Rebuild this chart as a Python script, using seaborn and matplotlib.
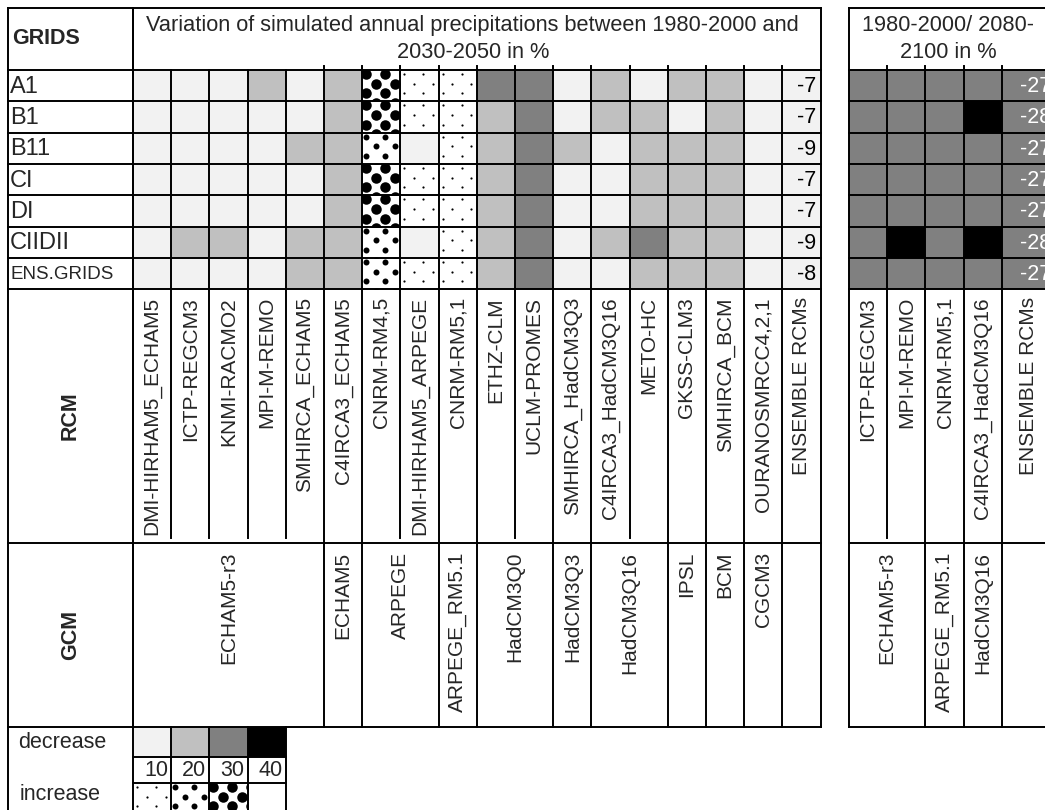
import numpy as np
import pandas as pd
import matplotlib
matplotlib.use('Agg')
import matplotlib.pyplot as plt
import seaborn as sns
from matplotlib.colors import ListedColormap, BoundaryNorm
from matplotlib.patches import Rectangle

sns.set_style('white')
plt.rcParams['font.family'] = ['Liberation Sans', 'DejaVu Sans']

# ---- data -------------------------------------------------------------
grids = ['A1', 'B1', 'B11', 'CI', 'DI', 'CIIDII', 'ENS.GRIDS']

rcm_left = ['DMI-HIRHAM5_ECHAM5', 'ICTP-REGCM3', 'KNMI-RACMO2', 'MPI-M-REMO',
            'SMHIRCA_ECHAM5', 'C4IRCA3_ECHAM5', 'CNRM-RM4,5', 'DMI-HIRHAM5_ARPEGE',
            'CNRM-RM5,1', 'ETHZ-CLM', 'UCLM-PROMES', 'SMHIRCA_HadCM3Q3',
            'C4IRCA3_HadCM3Q16', 'METO-HC', 'GKSS-CLM3', 'SMHIRCA_BCM',
            'OURANOSMRCC4,2,1', 'ENSEMBLE RCMs']
gcm_left = ['ECHAM5-r3', 'ECHAM5', 'ARPEGE', 'ARPEGE_RM5.1', 'HadCM3Q0', 'HadCM3Q3',
            'HadCM3Q16', 'IPSL', 'BCM', 'CGCM3', '']
gcm_left_span = [5, 1, 2, 1, 2, 1, 2, 1, 1, 1, 1]

# class of change in %: negative = decrease up to, positive = increase up to
left_classes = [
    [-10, -10, -10, -20, -10, -20, 30, 10, 10, -30, -30, -10, -20, -10, -20, -20, -10],
    [-10, -10, -10, -10, -10, -20, 30, 10, 10, -20, -30, -10, -20, -20, -10, -20, -10],
    [-10, -10, -10, -10, -20, -20, 20, -10, 10, -20, -30, -20, -10, -20, -20, -20, -10],
    [-10, -10, -10, -10, -10, -20, 30, 10, 10, -20, -30, -10, -10, -20, -20, -20, -10],
    [-10, -10, -10, -10, -10, -20, 30, 10, 10, -20, -30, -10, -10, -20, -20, -20, -10],
    [-10, -20, -20, -10, -20, -20, 20, -10, 10, -20, -30, -10, -20, -30, -20, -20, -10],
    [-10, -10, -10, -10, -20, -20, 20, 10, 10, -20, -30, -10, -10, -20, -20, -20, -10],
]
left_ens = [-7, -7, -9, -7, -7, -9, -8]

rcm_right = ['ICTP-REGCM3', 'MPI-M-REMO', 'CNRM-RM5,1', 'C4IRCA3_HadCM3Q16', 'ENSEMBLE RCMs']
gcm_right = ['ECHAM5-r3', 'ARPEGE_RM5.1', 'HadCM3Q16', '']
gcm_right_span = [2, 1, 1, 1]
right_classes = [
    [-30, -30, -30, -30],
    [-30, -30, -30, -40],
    [-30, -30, -30, -30],
    [-30, -30, -30, -30],
    [-30, -30, -30, -30],
    [-30, -40, -30, -40],
    [-30, -30, -30, -30],
]
right_ens = [-27, -28, -27, -27, -27, -28, -27]

legend_bins = [10, 20, 30, 40]
legend_decrease = [-10, -20, -30, -40]
legend_increase = [10, 20, 30, np.nan]

left_title = 'Variation of simulated annual precipitations between 1980-2000 and\n2030-2050 in %'
right_title = '1980-2000/ 2080-\n2100 in %'

# ---- layout (pixels) ---------------------------------------------------
W, H = 1045, 810
LX, X0, CW = 8, 133, 38.2
RX0 = 849
Y_TOP, Y_G0, RH = 8, 70, 31.3
Y_RCM1, Y_GCM1 = 543, 727
Y_LEG = [727, 757, 783, 815]
left_edges = X0 + CW * np.arange(len(rcm_left) + 1)
right_edges = np.append(RX0 + CW * np.arange(len(rcm_right)), 1055)
row_edges = Y_G0 + RH * np.arange(len(grids) + 1)
leg_edges = X0 + CW * np.arange(len(legend_bins) + 1)
FS = 15

fig = plt.figure(figsize=(W / 100, H / 100), dpi=100, facecolor='white')
ov = fig.add_axes([0, 0, 1, 1])
ov.set_xlim(0, W)
ov.set_ylim(H, 0)
ov.axis('off')
ov.set_zorder(5)

cmap = ListedColormap(['#000000', '#808080', '#c0c0c0', '#f2f2f2', 'white', 'white', 'white'])
norm = BoundaryNorm([-45, -35, -25, -15, 0, 15, 25, 35], cmap.N)


def cells(df, x0, y0, x1, y1):
    ax = fig.add_axes([x0 / W, 1 - y1 / H, (x1 - x0) / W, (y1 - y0) / H])
    sns.heatmap(df, ax=ax, cmap=cmap, norm=norm, cbar=False,
                xticklabels=False, yticklabels=False)
    ax.set_axis_off()
    return ax


DOT_D = {10: 2.2, 20: 6.0, 30: 10.5}


def dot_cell(x0, y0, w, h, cls):
    d = DOT_D[int(cls)]
    xs, ys = [], []
    for k in range(-1, int(h // 9.7) + 2):
        for m in range(-1, int(w // 19) + 2):
            xs.append(x0 + 4 + 9.5 * (k % 2) + 19 * m)
            ys.append(y0 + 4 + 9.7 * k)
    clip = Rectangle((x0, y0), w, h, transform=ov.transData)
    sc = ov.scatter(xs, ys, s=(d * 0.72) ** 2, c='k', linewidths=0)
    sc.set_clip_path(clip)


left_df = pd.DataFrame(left_classes, index=grids, columns=rcm_left[:-1])
right_df = pd.DataFrame(right_classes, index=grids, columns=rcm_right[:-1])
cells(left_df, left_edges[0], row_edges[0], left_edges[-2], row_edges[-1])
cells(pd.DataFrame({rcm_left[-1]: left_ens}, index=grids),
      left_edges[-2], row_edges[0], left_edges[-1], row_edges[-1])
cells(right_df, right_edges[0], row_edges[0], right_edges[-2], row_edges[-1])
cells(pd.DataFrame({rcm_right[-1]: right_ens}, index=grids),
      right_edges[-2], row_edges[0], right_edges[-1], row_edges[-1])
cells(pd.DataFrame([legend_decrease]), leg_edges[0], Y_LEG[0], leg_edges[-1], Y_LEG[1])
cells(pd.DataFrame([legend_increase]), leg_edges[0], Y_LEG[2], leg_edges[-1], Y_LEG[3])

# dotted textures for increases
for i in range(len(grids)):
    for j, v in enumerate(left_classes[i]):
        if v > 0:
            dot_cell(left_edges[j], row_edges[i], CW, RH, v)
for j, v in enumerate(legend_increase):
    if v > 0:
        dot_cell(leg_edges[j], Y_LEG[2], CW, Y_LEG[3] - Y_LEG[2], v)

# ---- grid lines -----------------------------------------------------------
LW = 1.4
kw = dict(color='k', lw=LW, solid_capstyle='projecting')


def table_lines(x_left, edges, spans, tick_from):
    xr = edges[-1]
    for y in [Y_TOP, *row_edges, Y_RCM1, Y_GCM1]:
        ov.plot([x_left, xr], [y, y], **kw)
    ov.plot([edges[0], edges[0]], [Y_TOP, Y_GCM1], **kw)
    ov.plot([xr, xr], [Y_TOP, Y_GCM1], **kw)
    bounds = set(np.cumsum(spans))
    for i in range(1, len(edges) - 1):
        top = Y_G0 - 4 if i >= tick_from else Y_G0
        bottom = Y_GCM1 if i in bounds else Y_RCM1 - 5
        ov.plot([edges[i], edges[i]], [top, bottom], **kw)


table_lines(LX, left_edges, gcm_left_span, 5)
table_lines(right_edges[0], right_edges, gcm_right_span, 1)
ov.plot([LX, LX], [Y_TOP, H + 5], **kw)
ov.plot([X0, X0], [Y_TOP, H + 5], **kw)
for y in Y_LEG[1:3]:
    ov.plot([leg_edges[0], leg_edges[-1]], [y, y], **kw)
for x in leg_edges[1:]:
    ov.plot([x, x], [Y_LEG[0], H + 5], **kw)

# ---- texts --------------------------------------------------------------
ov.text(12, (Y_TOP + Y_G0) / 2, 'GRIDS', fontsize=15.5, fontweight='bold', va='center')
ov.text((left_edges[0] + left_edges[-1]) / 2 - 4, (Y_TOP + Y_G0) / 2, left_title,
        fontsize=15.7, ha='center', va='center', linespacing=1.4)
ov.text(948, (Y_TOP + Y_G0) / 2, right_title,
        fontsize=15.7, ha='center', va='center', linespacing=1.4)

for i, g in enumerate(grids):
    yc = (row_edges[i] + row_edges[i + 1]) / 2
    ov.text(10, yc + 1, g, fontsize=13.5 if g == 'ENS.GRIDS' else 17, va='center')
    ov.text(left_edges[-1] - 4, yc + 1, str(left_ens[i]), fontsize=15.5,
            ha='right', va='center', color='k')
    ov.text(right_edges[-1] - 4, yc + 1, str(right_ens[i]), fontsize=15.5,
            ha='right', va='center', color='white')

ov.text((LX + X0) / 2, (row_edges[-1] + Y_RCM1) / 2, 'RCM', fontsize=15.5,
        fontweight='bold', rotation=90, ha='center', va='center')
ov.text((LX + X0) / 2, (Y_RCM1 + Y_GCM1) / 2, 'GCM', fontsize=15.5,
        fontweight='bold', rotation=90, ha='center', va='center')

for names, edges in [(rcm_left, left_edges), (rcm_right, right_edges)]:
    for j, name in enumerate(names):
        ov.text((edges[j] + edges[j + 1]) / 2, row_edges[-1] + 8, name, fontsize=FS,
                rotation=90, ha='center', va='top')

for names, spans, edges in [(gcm_left, gcm_left_span, left_edges),
                            (gcm_right, gcm_right_span, right_edges)]:
    start = 0
    for name, sp in zip(names, spans):
        xc = (edges[start] + edges[start + sp]) / 2
        ov.text(xc, Y_RCM1 + 9, name, fontsize=FS, rotation=90, ha='center', va='top')
        start += sp

ov.text(18, (Y_LEG[0] + Y_LEG[1]) / 2, 'decrease', fontsize=15.5, va='center')
ov.text(20, 795, 'increase', fontsize=15.5, va='center')
for j, b in enumerate(legend_bins):
    ov.text(leg_edges[j + 1] - 3, (Y_LEG[1] + Y_LEG[2]) / 2 + 1, str(b), fontsize=15.5,
            ha='right', va='center')

fig.savefig('out.png', dpi=100, facecolor='white')
